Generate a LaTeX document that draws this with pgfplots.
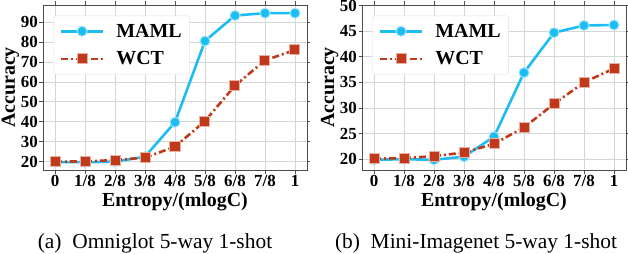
\documentclass[border=0pt]{standalone}
\usepackage{fontspec}
\setmainfont{Liberation Serif}
\usepackage{pgfplots}
\pgfplotsset{compat=1.18}
\definecolor{mamlc}{HTML}{1CBDF2}
\definecolor{wctc}{HTML}{C0391B}
\definecolor{gridc}{HTML}{D6D6D6}
\pgfplotsset{
  mystyle/.style={
    scale only axis,
    width=264bp, height=165bp,
    xmin=-0.4, xmax=8.4,
    xtick={0,1,2,3,4,5,6,7,8},
    xticklabels={0,1/8,2/8,3/8,4/8,5/8,6/8,7/8,1},
    grid=major,
    major grid style={gridc, line width=0.9pt},
    axis line style={black!70, line width=0.9pt},
    tick style={black!70, line width=0.9pt},
    tick align=outside,
    major tick length=3.5bp,
    tick label style={font=\fontsize{17}{17}\selectfont\bfseries},
    xticklabel style={inner sep=1.5bp},
    yticklabel style={inner sep=1.5bp},
    /pgf/number format/assume math mode=true,
    xlabel={Entropy/(mlogC)},
    ylabel={Accuracy},
    label style={font=\fontsize{20}{20}\selectfont\bfseries},
    xlabel style={at={(axis description cs:0.5,0)}, anchor=base, yshift=-36bp},
    ylabel style={at={(axis description cs:0,0.5)}, anchor=base, rotate=0, yshift=28bp},
    legend style={at={(0.04,0.935)}, anchor=north west, draw=black!12, rounded corners=2pt,
      font=\fontsize{20}{20}\selectfont\bfseries, row sep=9bp, inner xsep=6bp, inner ysep=6bp,
      /tikz/every odd column/.append style={column sep=10bp}},
    legend cell align=left,
    legend image code/.code={\draw[##1, mark repeat=2, mark phase=2] plot coordinates {(0bp,0bp) (21bp,0bp) (42bp,0bp)};},
  },
  mamlst/.style={color=mamlc, line width=2.6pt, mark=*, mark size=5bp,
     mark options={fill=mamlc, draw=mamlc!40, line width=1pt, solid}},
  wctst/.style={color=wctc, line width=2.6pt, dash pattern=on 7bp off 3bp on 2bp off 3bp,
     mark=square*, mark size=5bp, mark options={fill=wctc, draw=wctc!40, line width=1pt, solid}},
}
\begin{document}
\begin{tikzpicture}
\useasboundingbox (0bp,0bp) rectangle (628bp,254bp);
\begin{axis}[mystyle, at={(43bp,84bp)}, anchor=south west,
  ymin=15.8, ymax=98.7, ytick={20,30,40,50,60,70,80,90}]
\addplot[mamlst] coordinates {(0,19.8) (1,19.7) (2,20.0) (3,22.5) (4,39.8) (5,80.6) (6,93.4) (7,94.6) (8,94.6)};
\addlegendentry{MAML}
\addplot[wctst] coordinates {(0,20.0) (1,20.1) (2,20.8) (3,22.0) (4,27.5) (5,40.4) (6,58.2) (7,70.9) (8,76.1)};
\addlegendentry{WCT}
\end{axis}
\begin{axis}[mystyle, at={(362bp,84bp)}, anchor=south west,
  ymin=17.9, ymax=50.1, ytick={20,25,30,35,40,45,50}]
\addplot[mamlst] coordinates {(0,19.9) (1,20.0) (2,19.9) (3,20.5) (4,24.4) (5,36.9) (6,44.7) (7,46.1) (8,46.2)};
\addlegendentry{MAML}
\addplot[wctst] coordinates {(0,20.1) (1,20.2) (2,20.6) (3,21.3) (4,23.0) (5,26.2) (6,30.8) (7,35.0) (8,37.7)};
\addlegendentry{WCT}
\end{axis}
\node[font=\fontsize{21.5}{21.5}\selectfont, anchor=base] at (155bp,6bp) {(a)\ \ Omniglot 5-way 1-shot};
\node[font=\fontsize{21.5}{21.5}\selectfont, anchor=base] at (476bp,6bp) {(b)\ \ Mini-Imagenet 5-way 1-shot};
\end{tikzpicture}
\end{document}
